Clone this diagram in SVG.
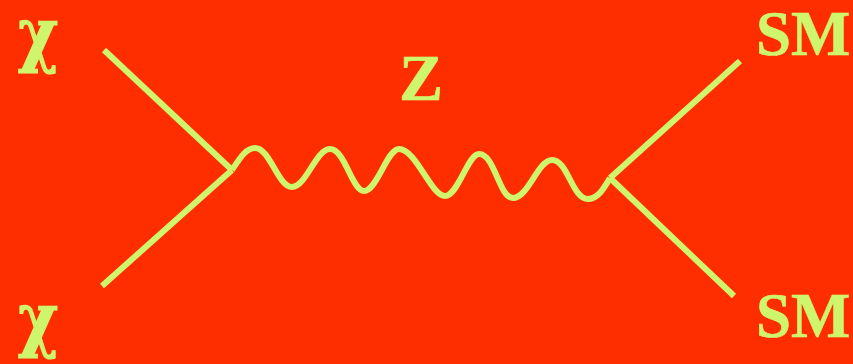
<svg xmlns="http://www.w3.org/2000/svg" width="853" height="364" viewBox="0 0 853 364">
<style>
.l{fill:none;stroke:#cff56c;stroke-width:6;stroke-linejoin:round}
text{font-family:"Liberation Serif",serif;font-weight:bold;fill:#cff56c;stroke:#cff56c;stroke-width:.6}
.s{font-size:63px}
.c{font-size:72px;font-family:"DejaVu Serif",serif;stroke-width:1.2}
</style>
<rect width="853" height="364" fill="#ff2e00"/>
<g id="connectors">
<path class="l" d="M104 50L232 170"/>
<path class="l" d="M102 286L232 170"/>
<path class="l" d="M740 61L610 178"/>
<path class="l" d="M734 296L610 178"/>
<path class="l" d="M232 170C240 158 246 148 255 148C270 148 278 187 292 187C306 187 316 149 330 149C345 149 352 191 364 191C377 191 387 149 399 149C416 149 431 196 445 196C458 196 468 154 479 154C495 154 499 198 513 198C528 198 538 160 552 160C568 160 572 199 588 199C598 199 604 188 610 178"/>
</g>
<g id="chi-top"><text class="c" transform="translate(18 58) scale(.85 1)">χ</text></g>
<g id="chi-bottom"><text class="c" transform="translate(18 343) scale(.85 1)">χ</text></g>
<g id="z"><text x="399" y="100" font-size="66">Z</text></g>
<g id="sm-top"><text class="s" x="756" y="55">SM</text></g>
<g id="sm-bottom"><text class="s" x="756" y="337">SM</text></g>
</svg>
